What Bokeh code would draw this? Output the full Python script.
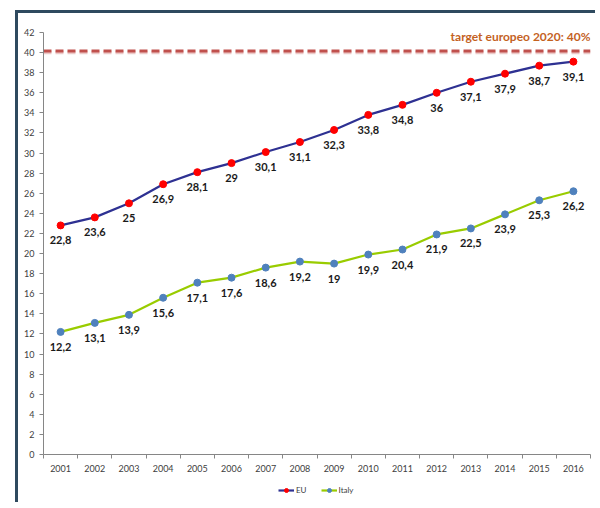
from bokeh.plotting import figure
from bokeh.layouts import column
from bokeh.models import FixedTicker, Legend, LegendItem, Label
from bokeh.core.properties import value
from bokeh.embed import file_html
from bokeh.resources import INLINE

years = list(range(2001, 2017))
eu = [22.8, 23.6, 25, 26.9, 28.1, 29, 30.1, 31.1, 32.3, 33.8, 34.8, 36, 37.1, 37.9, 38.7, 39.1]
italy = [12.2, 13.1, 13.9, 15.6, 17.1, 17.6, 18.6, 19.2, 19, 19.9, 20.4, 21.9, 22.5, 23.9, 25.3, 26.2]
target = 40.15
target_text = "target europeo 2020: 40%"
y_ticks = list(range(0, 43, 2))
series_names = ["EU", "Italy"]


def fmt(v):
    return str(int(v)) if v == int(v) else str(v).replace(".", ",")


FONT = "Lato"
BORDER = "3px solid #2f4a5f"
EU_LINE, EU_MARK = "#2e3192", "#ff0000"
IT_LINE, IT_MARK = "#99cc00", "#4f81bd"

p = figure(width=580, height=470, output_backend="svg", toolbar_location=None,
           x_range=(2000.5, 2016.5), y_range=(0, 42),
           min_border_left=25, min_border_right=8, min_border_top=19, min_border_bottom=29)
p.styles = {"margin-left": "15px", "margin-top": "10px",
            "border-left": BORDER, "border-top": BORDER}
p.outline_line_color = None
p.xgrid.visible = False
p.ygrid.visible = False

# axes
p.yaxis.ticker = FixedTicker(ticks=y_ticks)
p.xaxis.ticker = FixedTicker(ticks=years, minor_ticks=[y - 0.5 for y in years] + [years[-1] + 0.5])
for ax in (p.xaxis, p.yaxis):
    ax.axis_line_color = "#868686"
    ax.major_tick_line_color = "#868686"
    ax.minor_tick_line_color = "#868686"
    ax.major_label_text_font = FONT
    ax.major_label_text_font_size = "9px"
    ax.major_label_text_color = "#404040"
    ax.major_tick_in = 0
    ax.minor_tick_in = 0
p.yaxis.major_tick_out = 4
p.yaxis.minor_tick_out = 0
p.yaxis.major_label_standoff = 5
p.xaxis.major_tick_out = 0
p.xaxis.minor_tick_out = 4
p.xaxis.major_label_standoff = 6

# target line
p.line(x=[2000.5, 2016.5], y=[target - 0.17, target - 0.17], line_color="#ecc9c8",
       line_width=3, line_dash="8 4")
p.line(x=[2000.5, 2016.5], y=[target, target], line_color="#c0504d",
       line_width=3, line_dash="8 4")
p.add_layout(Label(x=2016.5, y=42, y_offset=-4, text=target_text, text_align="right",
                   text_baseline="middle", text_font=FONT, text_font_style="bold",
                   text_font_size="12px", text_color="#c4621f"))

# series
p.line(years, eu, line_color=EU_LINE, line_width=2.2)
p.scatter(years, eu, size=7, fill_color=EU_MARK, line_color=EU_MARK)
p.line(years, italy, line_color=IT_LINE, line_width=2.2)
p.scatter(years, italy, size=7, fill_color=IT_MARK, line_color=IT_MARK)

for vals in (eu, italy):
    p.text(x=years, y=vals, text=[fmt(v) for v in vals], y_offset=15,
           text_align="center", text_baseline="middle", text_font=value(FONT),
           text_font_style="bold", text_font_size="11px", text_color="#1a1a1a")

# legend strip below the chart (its renderers hold the series but lie outside its ranges)
lg = figure(width=580, height=22, output_backend="svg", toolbar_location=None,
            x_axis_type=None, y_axis_type=None, x_range=(0, 1), y_range=(0, 1),
            min_border=0)
lg.styles = {"margin-left": "15px", "border-left": BORDER}
lg.outline_line_color = None
lg.grid.visible = False
r1 = lg.line(years, eu, line_color=EU_LINE, line_width=2.2)
r2 = lg.scatter(years, eu, size=7, fill_color=EU_MARK, line_color=EU_MARK)
r3 = lg.line(years, italy, line_color=IT_LINE, line_width=2.2)
r4 = lg.scatter(years, italy, size=7, fill_color=IT_MARK, line_color=IT_MARK)
legend = Legend(items=[LegendItem(label=series_names[0], renderers=[r1, r2]),
                       LegendItem(label=series_names[1], renderers=[r3, r4])],
                orientation="horizontal", location=(235, 7),
                label_text_font=FONT, label_text_font_size="8px", label_text_color="#404040",
                glyph_width=16, glyph_height=10, label_height=10, label_width=10,
                label_standoff=2, spacing=14, padding=0, margin=0, border_line_color=None,
                background_fill_alpha=0)
lg.add_layout(legend, "center")

layout = column(p, lg, spacing=0)
open("out.html", "w").write(file_html(layout, INLINE))
